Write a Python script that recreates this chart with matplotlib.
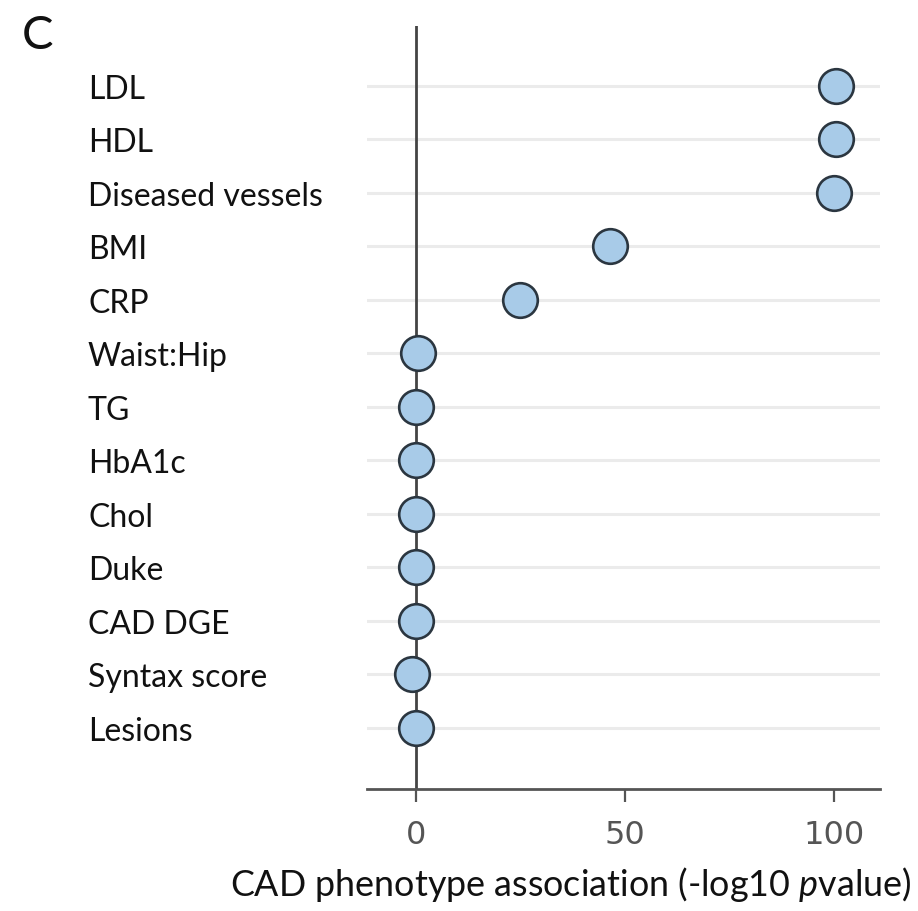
import matplotlib
matplotlib.use("Agg")
import matplotlib.pyplot as plt

categories = ["LDL", "HDL", "Diseased vessels", "BMI", "CRP", "Waist:Hip", "TG",
              "HbA1c", "Chol", "Duke", "CAD DGE", "Syntax score", "Lesions"]
values = [100.5, 100.5, 100, 46.5, 25, 0.5, 0, 0, 0, 0, 0, -1, 0]
xticks = [0, 50, 100]

plt.rcParams['mathtext.fontset'] = 'custom'
plt.rcParams['mathtext.rm'] = 'Lato'
plt.rcParams['mathtext.it'] = 'Lato:italic'

fig = plt.figure(figsize=(9.18, 9.12), dpi=100)
ax = fig.add_axes([367/918, 1-790/912, (880-367)/918, (790-27)/912])

ypos = list(range(len(categories)))
for y in ypos:
    ax.axhline(y, color="#ebebeb", lw=2.2, zorder=0)
ax.axvline(0, color="#444444", lw=2, zorder=1)
ax.scatter(values, ypos, s=620, facecolor="#a8cbe8", edgecolor="#2b3640",
           linewidth=1.9, zorder=3)

ax.set_xlim(-11.7, 111)
ax.set_ylim(13.14, -1.12)
for s in ["top", "right", "left"]:
    ax.spines[s].set_visible(False)
ax.spines["bottom"].set_color("#555555")
ax.spines["bottom"].set_linewidth(2)

ax.set_xticks(xticks)
ax.set_xticklabels([str(t) for t in xticks], fontfamily="DejaVu Sans",
                   fontsize=23, color="#555555")
ax.tick_params(axis="x", length=9.5, width=1.6, color="#555555", pad=12)

ax.set_yticks(ypos)
ax.set_yticklabels(categories, fontfamily="Lato", fontsize=23, color="#111111")
ax.tick_params(axis="y", length=0, pad=279*0.72)
for lab in ax.get_yticklabels():
    lab.set_horizontalalignment("left")

ax.set_xlabel(r"CAD phenotype association (-log10 $\mathit{p}$value)",
              fontfamily="Lato", fontsize=25.8, color="#111111",
              verticalalignment="center")
ax.xaxis.set_label_coords((571-367)/513, -(885-790)/763)

fig.text(22/918, 1-36/912, "C", fontfamily="Lato", fontsize=34, va="center",
         ha="left", color="#111111")

fig.savefig("out.png", dpi=100)
